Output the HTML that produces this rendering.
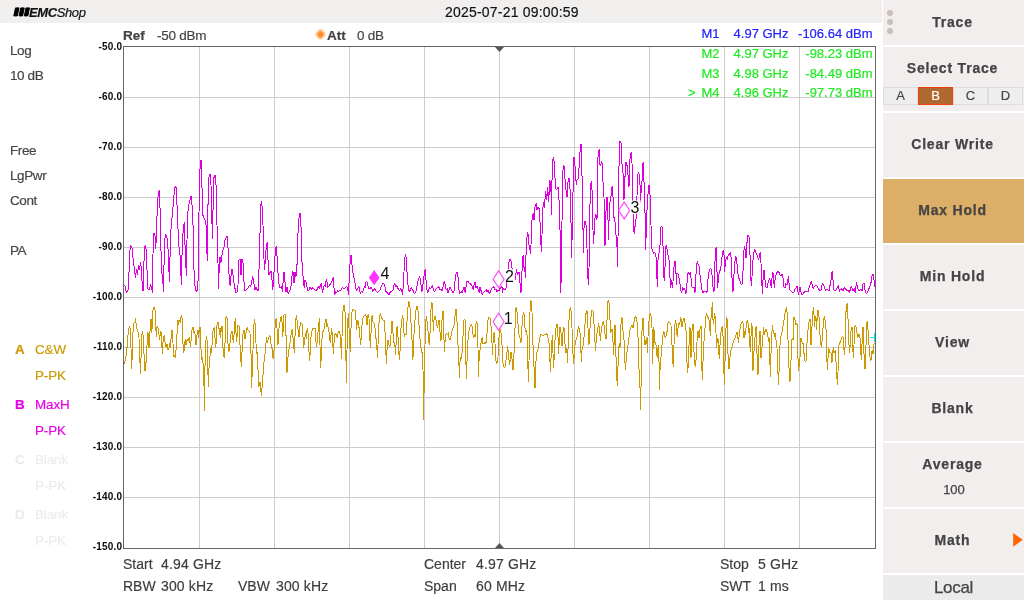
<!DOCTYPE html>
<html lang="en">
<head>
<meta charset="utf-8">
<title>Spectrum Analyzer - Trace</title>
<style>
*{box-sizing:border-box;margin:0;padding:0}
html,body{width:1024px;height:600px;overflow:hidden;background:#fff}
body{font-family:"Liberation Sans",Arial,sans-serif;color:#444;position:relative;-webkit-text-stroke:0.18px}
.abs{position:absolute;white-space:nowrap}
#hdr{left:0;top:0;width:882px;height:23px;background:#f1eeee}
#logo{left:29px;top:5px;font-size:13px;line-height:16px;color:#111;font-style:italic;letter-spacing:-0.4px}
#logo b{font-weight:bold}
#time{left:445px;top:3.5px;font-size:14px;line-height:16px;color:#111;letter-spacing:0.2px}
.lt{left:10px;font-size:13.5px;line-height:16px;color:#444;letter-spacing:-0.4px;margin-top:0.7px}
.lg{font-size:13.4px;line-height:16px;letter-spacing:-0.1px;margin-top:0.3px}
.lg b{position:absolute;left:-20px}
.ax{font-size:10px;font-weight:bold;color:#111;line-height:12px;width:40px;text-align:right;left:82px}
.ft{font-size:14px;line-height:16px;color:#3e3e3e}
.fv{letter-spacing:0.15px}
.mk{font-size:13px;line-height:16px;text-align:right}
#side{left:883px;top:0;width:141px;height:600px;background:#fff}
.btn{position:absolute;left:0;width:141px;height:64px;background:#f2eeed;text-align:center;font-weight:bold;font-size:14px;color:#444;line-height:16px;letter-spacing:0.8px;-webkit-text-stroke:0.25px}
.btn span{position:absolute;left:0;width:139px;text-align:center}
.tab{position:absolute;top:87px;height:18px;width:35px;background:#eee;border:1px solid #ddd;font-size:13px;font-weight:normal;line-height:16px;text-align:center;color:#444}
</style>
</head>
<body>
<div id="hdr" class="abs"></div>
<div id="logo" class="abs"><b>EMC</b>Shop</div>
<div id="time" class="abs">2025-07-21 09:00:59</div>

<div class="abs lt" style="top:42px">Log</div>
<div class="abs lt" style="top:67px">10 dB</div>
<div class="abs lt" style="top:142px">Free</div>
<div class="abs lt" style="top:167px">LgPwr</div>
<div class="abs lt" style="top:192px">Cont</div>
<div class="abs lt" style="top:242px">PA</div>

<div class="abs lg" style="left:35px;top:342px;color:#cc9900"><b>A</b>C&amp;W</div>
<div class="abs lg" style="left:35px;top:368px;color:#cc9900">P-PK</div>
<div class="abs lg" style="left:35px;top:397px;color:#e600e6"><b>B</b>MaxH</div>
<div class="abs lg" style="left:35px;top:423px;color:#e600e6">P-PK</div>
<div class="abs lg" style="left:35px;top:452px;color:#ebebee"><b>C</b>Blank</div>
<div class="abs lg" style="left:35px;top:478px;color:#ebebee">P-PK</div>
<div class="abs lg" style="left:35px;top:507px;color:#ebebee"><b>D</b>Blank</div>
<div class="abs lg" style="left:35px;top:533px;color:#ebebee">P-PK</div>

<svg class="abs" style="left:0;top:0" width="883" height="600" viewBox="0 0 883 600" font-family="Liberation Sans, Arial, sans-serif">
<path d="M199.5 46.5V548.5M274.5 46.5V548.5M349.5 46.5V548.5M424.5 46.5V548.5M499.5 46.5V548.5M574.5 46.5V548.5M649.5 46.5V548.5M724.5 46.5V548.5M799.5 46.5V548.5M123.5 97.5H875.5M123.5 147.5H875.5M123.5 197.5H875.5M123.5 247.5H875.5M123.5 297.5H875.5M123.5 347.5H875.5M123.5 397.5H875.5M123.5 447.5H875.5M123.5 497.5H875.5" stroke="#cccccc" stroke-width="1" fill="none" shape-rendering="crispEdges"/>
<path d="M123.7 365.0 L124.7 361.7 L125.7 358.3 L126.7 351.7 L127.7 338.3 L128.7 328.3 L129.7 326.7 L130.3 330.0 L131.0 348.3 L131.7 369.2 L132.3 351.7 L133.0 331.7 L134.0 323.3 L135.0 321.7 L135.7 318.3 L136.3 326.7 L137.3 330.0 L138.3 332.5 L139.0 338.3 L139.7 351.7 L140.3 374.2 L141.0 358.3 L141.7 338.3 L142.3 330.8 L143.0 335.0 L143.7 346.7 L144.3 361.7 L145.0 370.8 L145.7 363.3 L146.3 361.7 L147.0 345.0 L147.7 332.5 L148.3 333.3 L149.0 348.3 L149.7 336.7 L150.3 325.0 L151.0 319.2 L151.7 333.3 L152.3 325.0 L153.0 310.0 L154.0 307.5 L155.0 310.0 L155.7 325.0 L156.3 336.7 L157.0 326.7 L158.0 327.5 L158.7 333.3 L159.7 340.0 L160.3 332.5 L161.0 331.7 L161.7 341.7 L162.3 354.2 L163.0 341.7 L163.7 336.7 L164.3 335.0 L165.0 341.7 L166.0 346.7 L167.0 344.2 L168.0 350.0 L169.0 348.3 L170.0 343.3 L170.7 348.3 L171.3 330.8 L172.3 330.3 L173.0 343.3 L173.7 356.7 L174.7 355.8 L175.3 358.3 L176.0 350.0 L176.7 340.0 L177.3 328.3 L178.0 320.0 L178.7 325.0 L179.3 320.0 L180.3 322.5 L181.0 316.7 L181.7 315.0 L182.3 320.0 L182.7 335.0 L183.3 352.5 L184.0 350.8 L184.7 343.3 L185.3 339.2 L186.0 345.0 L186.7 341.7 L187.3 339.2 L188.0 340.8 L188.7 338.3 L189.3 337.5 L190.0 343.3 L190.7 346.7 L191.3 336.7 L192.0 330.0 L192.7 326.7 L193.3 327.5 L194.0 333.3 L194.7 330.8 L195.3 336.7 L196.0 345.0 L196.7 339.2 L197.3 330.8 L198.0 330.0 L198.7 338.3 L199.3 328.3 L200.0 326.7 L200.7 341.7 L201.3 355.0 L202.0 360.0 L202.7 357.5 L203.3 368.3 L204.0 385.8 L204.3 410.5 L205.0 366.7 L205.7 345.0 L206.3 335.8 L207.0 340.0 L207.7 361.7 L208.3 386.7 L209.0 368.3 L209.7 361.7 L210.3 351.7 L211.0 348.3 L211.7 353.3 L212.3 336.7 L213.0 330.8 L213.7 328.3 L214.3 327.5 L215.0 338.3 L215.7 348.3 L216.3 340.0 L217.0 325.0 L218.0 321.7 L218.7 322.5 L219.3 335.0 L220.0 328.3 L220.7 338.3 L221.3 326.7 L222.0 325.8 L222.7 341.7 L223.3 354.2 L224.3 358.3 L225.0 343.3 L225.7 330.0 L226.0 316.7 L227.0 317.5 L227.7 336.7 L228.3 351.7 L229.3 350.8 L230.0 343.3 L230.7 336.7 L231.3 331.7 L232.0 330.8 L232.7 336.7 L233.3 343.3 L234.0 335.0 L234.7 324.2 L235.3 318.3 L236.0 333.3 L236.7 341.7 L237.3 333.3 L238.0 325.0 L239.0 325.8 L239.7 338.3 L240.3 350.0 L241.0 361.7 L241.3 366.7 L242.0 352.5 L242.7 338.3 L243.3 330.8 L244.3 330.0 L245.0 339.2 L245.7 335.0 L246.3 330.8 L247.3 326.7 L248.0 330.0 L249.0 330.8 L250.0 333.3 L250.7 346.7 L251.3 361.7 L251.7 387.5 L252.3 368.3 L253.0 350.0 L253.7 325.8 L254.7 319.2 L255.3 326.7 L256.0 343.3 L256.7 354.2 L257.3 351.7 L258.0 370.0 L258.7 386.7 L259.3 385.8 L260.0 381.7 L260.7 388.3 L261.3 395.7 L262.0 388.3 L262.7 381.7 L263.3 368.3 L264.0 361.7 L264.7 358.3 L265.3 350.0 L266.0 343.3 L266.7 336.7 L267.3 343.3 L268.0 340.0 L268.7 338.3 L269.3 335.0 L270.0 335.8 L270.7 339.2 L271.3 348.3 L272.0 347.5 L272.7 356.7 L273.3 359.2 L274.0 350.0 L274.7 335.0 L275.3 321.7 L276.3 318.3 L277.0 328.3 L277.7 345.0 L278.3 343.3 L279.0 328.3 L279.7 325.0 L280.3 320.0 L281.3 315.8 L282.0 321.7 L282.7 336.7 L283.3 328.3 L284.0 315.0 L285.3 314.7 L285.7 325.0 L286.3 345.0 L287.0 372.5 L287.7 361.7 L288.3 353.3 L289.3 346.7 L290.3 341.7 L291.3 331.7 L292.3 329.2 L293.0 338.3 L293.7 345.0 L294.3 353.3 L295.0 336.7 L295.7 321.7 L296.3 315.0 L297.0 320.0 L297.7 323.3 L298.3 333.3 L299.0 336.7 L299.7 328.3 L300.7 322.5 L301.7 323.3 L302.3 325.0 L303.0 336.7 L303.7 348.3 L304.3 341.7 L305.0 336.7 L305.7 333.3 L306.3 339.2 L307.0 330.0 L307.7 328.3 L308.3 336.7 L309.0 351.7 L309.7 360.8 L310.3 350.0 L311.0 336.7 L312.0 330.8 L313.0 328.3 L314.0 329.2 L315.0 328.3 L315.7 336.7 L316.3 346.7 L317.0 343.3 L317.7 336.7 L318.3 328.3 L319.0 321.7 L319.5 318.3 L320.0 345.0 L320.3 368.3 L321.0 361.7 L321.7 345.0 L322.3 333.3 L323.3 330.8 L324.3 328.3 L325.0 323.3 L325.7 319.2 L326.3 320.0 L327.0 326.7 L327.7 323.3 L328.3 330.8 L329.0 331.7 L329.7 338.3 L330.3 343.3 L331.0 335.0 L331.7 328.3 L332.3 335.0 L333.0 346.7 L333.3 354.2 L334.0 343.3 L334.7 335.0 L335.3 333.3 L336.3 335.0 L337.3 337.5 L338.0 333.3 L338.7 330.8 L339.7 332.5 L340.3 335.0 L341.0 348.3 L341.3 359.2 L342.0 336.7 L342.7 316.7 L343.3 306.7 L344.3 305.0 L345.0 311.7 L345.7 336.7 L346.3 382.5 L347.0 350.0 L347.7 323.3 L348.3 313.3 L349.0 328.3 L349.7 343.3 L350.3 351.7 L351.0 328.3 L351.7 315.0 L352.3 310.0 L353.3 309.2 L354.3 310.0 L355.3 310.8 L356.0 320.0 L356.7 330.0 L357.3 320.0 L358.0 320.8 L358.7 326.7 L359.3 328.3 L360.0 338.3 L360.7 345.0 L361.3 335.0 L362.0 325.0 L362.7 318.3 L363.7 316.7 L364.7 315.0 L365.7 314.2 L366.3 318.3 L367.0 325.0 L367.7 316.7 L368.3 314.2 L369.0 318.3 L369.7 331.7 L370.3 348.3 L371.0 333.3 L371.7 316.7 L372.3 315.0 L373.0 321.7 L374.0 323.3 L375.0 328.3 L375.7 335.0 L376.3 341.7 L377.0 350.0 L377.3 357.5 L378.0 345.0 L378.7 328.3 L379.3 318.3 L380.3 313.3 L381.3 316.7 L382.3 319.2 L383.3 320.0 L384.3 320.8 L385.0 331.7 L385.7 345.0 L386.3 364.2 L387.0 350.0 L387.7 340.0 L388.3 340.8 L389.0 345.0 L389.7 346.7 L390.3 345.8 L391.0 335.0 L391.7 320.8 L392.7 321.7 L393.0 333.3 L393.7 341.7 L394.3 343.3 L395.0 346.7 L395.7 355.0 L396.3 336.7 L397.0 326.7 L397.7 325.8 L398.0 336.7 L398.7 350.0 L399.3 360.0 L400.0 351.7 L400.7 336.7 L401.3 320.0 L402.3 318.3 L402.7 315.0 L403.3 320.0 L404.0 333.3 L404.7 336.7 L405.3 334.2 L406.3 335.0 L406.7 328.3 L407.3 315.0 L408.0 306.7 L408.7 300.8 L409.3 303.3 L410.0 308.3 L410.7 316.7 L411.3 328.3 L412.0 340.0 L412.7 360.0 L413.3 353.3 L413.7 340.0 L414.3 328.3 L415.0 320.0 L416.0 310.0 L417.0 305.8 L417.7 307.5 L418.3 315.0 L419.0 325.0 L419.7 335.0 L420.3 343.3 L421.0 348.3 L421.7 351.7 L422.3 353.3 L423.0 370.0 L423.3 387.5 L423.5 419.8 L424.3 378.3 L425.0 345.0 L425.7 320.8 L426.7 315.8 L427.3 325.0 L428.0 330.8 L428.7 340.0 L429.3 345.0 L430.0 333.3 L430.7 315.0 L431.3 303.3 L432.0 302.5 L432.7 311.7 L433.3 330.8 L434.0 320.0 L434.7 315.8 L435.7 317.5 L436.3 321.7 L437.0 325.8 L437.7 328.3 L438.3 322.5 L439.0 320.0 L439.7 326.7 L440.3 337.5 L441.0 340.8 L441.7 328.3 L442.3 311.7 L443.0 310.8 L443.7 326.7 L444.3 351.7 L445.0 341.7 L445.7 334.2 L446.7 333.3 L447.7 335.0 L448.3 332.5 L449.0 338.3 L450.0 340.0 L451.0 335.8 L452.0 330.8 L453.0 328.3 L454.0 325.0 L454.7 320.0 L455.3 311.7 L456.0 309.2 L456.7 318.3 L457.3 325.0 L458.0 345.0 L458.7 353.3 L459.3 378.3 L460.0 361.7 L460.7 356.7 L461.3 359.2 L462.0 353.3 L462.7 345.0 L463.3 328.3 L464.0 320.0 L465.0 319.2 L465.3 328.3 L465.7 350.0 L466.3 379.2 L467.0 361.7 L467.7 345.0 L468.3 335.0 L469.3 330.0 L470.3 325.8 L471.3 324.2 L472.3 326.7 L473.0 335.0 L473.7 338.3 L474.3 334.2 L475.0 336.7 L475.7 328.3 L476.3 320.8 L477.3 323.3 L477.7 335.0 L478.0 348.3 L478.3 376.7 L479.0 361.7 L479.7 351.7 L480.7 345.0 L481.7 339.2 L482.3 336.7 L483.0 344.2 L484.0 343.3 L485.0 342.5 L486.0 343.3 L486.7 338.3 L487.3 328.3 L488.0 320.0 L489.0 316.7 L490.0 318.3 L490.7 323.3 L491.3 328.3 L492.0 343.3 L492.7 355.0 L493.0 343.3 L493.7 333.3 L494.3 332.5 L495.0 343.3 L495.7 358.3 L496.3 364.2 L497.3 361.7 L498.0 356.7 L498.7 343.3 L499.3 330.8 L500.0 330.0 L500.7 329.2 L501.3 336.7 L502.0 345.0 L502.7 361.7 L503.7 365.0 L504.3 368.3 L505.0 366.7 L505.7 361.7 L506.3 358.3 L507.0 351.7 L507.7 345.8 L508.3 353.3 L509.0 360.0 L509.7 365.0 L510.3 358.3 L511.0 351.7 L511.7 356.7 L512.3 361.7 L513.0 370.0 L513.7 361.7 L514.3 345.0 L515.0 328.3 L515.7 310.0 L516.3 306.7 L517.0 311.7 L517.7 320.0 L518.3 328.3 L519.0 335.0 L520.0 338.3 L521.0 342.5 L521.7 333.3 L522.3 320.0 L523.3 312.5 L524.3 315.0 L525.0 328.3 L525.7 331.7 L526.7 330.0 L527.3 340.0 L527.7 355.8 L528.3 381.7 L529.0 361.7 L529.7 328.3 L530.0 311.7 L530.7 300.0 L531.3 301.7 L532.0 311.7 L532.3 328.3 L533.0 345.0 L533.7 361.7 L534.3 371.7 L535.0 388.3 L535.7 370.0 L536.3 353.3 L537.3 351.7 L538.3 348.3 L539.0 343.3 L539.7 338.3 L540.7 334.2 L541.7 335.0 L542.7 335.8 L543.7 335.0 L544.7 334.2 L545.7 335.0 L546.7 333.3 L547.7 335.0 L548.3 340.0 L549.0 343.3 L549.7 351.7 L550.3 371.7 L551.0 358.3 L551.7 345.0 L552.3 335.0 L553.0 353.3 L553.7 368.3 L554.3 353.3 L555.0 340.0 L555.7 330.8 L556.3 325.0 L557.0 324.2 L557.7 328.3 L558.3 345.0 L558.7 354.2 L559.3 336.7 L560.0 327.5 L560.7 328.3 L561.3 336.7 L562.0 345.8 L562.7 336.7 L563.3 327.5 L564.0 328.3 L564.7 338.3 L565.3 348.3 L566.0 353.3 L566.7 348.3 L567.0 353.3 L567.7 362.5 L568.3 336.7 L569.0 320.0 L569.7 309.2 L570.7 307.5 L571.3 315.0 L572.0 328.3 L572.7 345.0 L573.3 361.7 L573.7 364.2 L574.3 353.3 L575.0 345.0 L576.0 340.0 L577.0 337.5 L577.7 331.7 L578.3 326.7 L579.3 328.3 L580.0 333.3 L580.7 343.3 L581.3 361.7 L582.0 350.0 L582.7 348.3 L583.3 343.3 L584.0 336.7 L584.7 328.3 L585.3 320.0 L586.3 310.8 L587.3 311.7 L588.0 328.3 L588.7 345.0 L589.3 343.3 L590.0 328.3 L590.7 320.0 L591.3 315.0 L592.0 310.0 L593.0 310.8 L593.7 320.0 L594.3 328.3 L595.0 341.7 L595.3 350.8 L596.0 343.3 L596.7 335.0 L597.3 330.8 L598.0 326.7 L598.7 323.3 L599.3 328.3 L600.0 335.8 L600.3 340.8 L601.0 333.3 L601.7 328.3 L602.3 324.2 L603.3 320.8 L604.0 325.0 L604.7 331.7 L605.3 336.7 L606.0 339.2 L606.7 328.3 L607.3 311.7 L608.0 300.8 L608.7 300.0 L609.3 305.0 L610.0 320.0 L610.7 333.3 L611.3 330.8 L612.0 329.2 L612.7 338.3 L613.3 345.0 L613.7 355.0 L614.3 336.7 L614.7 325.8 L615.3 325.8 L615.7 345.0 L616.3 368.3 L616.7 376.7 L617.3 385.8 L618.0 366.7 L618.7 350.0 L619.3 343.3 L620.0 348.3 L620.3 336.7 L621.0 324.2 L621.3 316.7 L622.0 318.3 L622.7 326.7 L623.3 335.0 L624.0 340.0 L624.7 355.0 L625.3 370.0 L626.0 361.7 L626.7 353.3 L627.3 350.0 L628.0 345.0 L628.7 338.3 L629.3 335.0 L630.0 330.0 L630.7 327.5 L631.3 325.8 L632.0 325.0 L632.7 328.3 L633.3 326.7 L634.0 321.7 L634.7 318.3 L635.3 316.7 L636.3 317.5 L637.0 321.7 L637.7 333.3 L638.3 340.0 L638.7 360.0 L639.3 378.3 L640.0 388.3 L640.3 409.8 L641.3 378.3 L641.7 345.0 L642.3 319.2 L643.3 318.3 L643.7 333.3 L644.3 338.3 L645.0 345.0 L645.7 341.7 L646.3 338.3 L647.0 344.2 L647.3 352.5 L648.0 336.7 L648.7 326.7 L649.3 316.7 L650.0 314.2 L650.7 313.3 L651.3 318.3 L652.0 328.3 L652.3 345.0 L652.7 364.2 L653.3 336.7 L653.7 327.5 L654.3 333.3 L654.7 343.3 L655.3 341.7 L656.0 345.0 L656.7 352.5 L657.3 358.3 L658.0 348.3 L658.7 345.0 L659.0 361.7 L659.3 390.0 L660.0 370.0 L660.7 361.7 L661.3 353.3 L662.0 345.0 L662.7 338.3 L663.3 332.5 L664.0 331.7 L664.7 335.0 L665.3 338.3 L666.0 335.8 L666.7 335.0 L667.3 328.3 L668.0 323.3 L668.7 321.7 L669.7 322.5 L670.3 324.2 L671.0 325.0 L671.3 336.7 L672.0 345.0 L672.7 361.7 L673.3 366.7 L674.0 345.0 L674.7 328.3 L675.3 320.0 L676.0 323.3 L676.7 333.3 L677.3 336.7 L678.0 328.3 L678.7 323.3 L679.3 325.0 L680.0 322.5 L680.7 317.5 L681.3 320.0 L682.0 326.7 L682.7 322.5 L683.3 319.2 L684.3 318.3 L685.0 323.3 L685.7 328.3 L686.3 333.3 L686.7 353.3 L687.3 372.5 L688.0 368.3 L688.7 353.3 L689.3 336.7 L689.7 327.5 L690.3 328.3 L690.7 345.0 L691.0 357.5 L691.7 336.7 L692.3 325.0 L693.3 324.2 L693.7 341.7 L694.3 361.7 L695.0 365.0 L695.7 366.7 L696.3 353.3 L697.0 341.7 L697.7 330.8 L698.3 331.7 L699.0 338.3 L699.7 332.5 L700.3 326.7 L701.0 325.8 L701.3 338.3 L701.7 361.7 L702.3 380.0 L703.0 361.7 L703.7 345.0 L704.3 336.7 L705.0 328.3 L705.7 318.3 L706.3 313.3 L707.0 315.0 L707.7 316.7 L708.3 318.3 L709.0 320.0 L709.7 326.7 L710.3 335.8 L710.7 325.0 L711.3 311.7 L712.0 306.7 L712.7 302.5 L713.0 320.0 L713.7 324.2 L714.3 313.3 L715.0 315.0 L715.3 326.7 L716.0 333.3 L716.7 348.3 L717.3 338.3 L718.0 339.2 L718.7 350.0 L719.3 359.2 L720.0 345.0 L720.7 336.7 L721.3 328.3 L722.0 326.7 L722.7 325.8 L723.3 345.0 L723.7 361.7 L724.3 385.0 L725.0 361.7 L725.3 345.0 L726.0 328.3 L726.7 317.5 L727.3 320.0 L727.7 345.0 L728.3 361.7 L729.0 369.2 L729.7 361.7 L730.3 353.3 L731.0 350.0 L731.7 348.3 L732.3 345.0 L733.0 343.3 L733.7 340.8 L734.3 339.2 L735.0 338.3 L735.7 336.7 L736.3 334.2 L737.0 331.7 L737.7 335.0 L738.3 343.3 L739.0 336.7 L739.7 330.8 L740.3 326.7 L741.0 324.2 L741.7 322.5 L742.7 321.7 L743.3 325.0 L744.0 338.3 L744.7 330.8 L745.3 335.0 L746.0 328.3 L746.7 321.7 L747.3 320.0 L748.0 322.5 L748.7 333.3 L749.3 328.3 L749.7 341.7 L750.3 351.7 L751.0 336.7 L751.3 323.3 L752.0 324.2 L752.3 345.0 L753.0 370.8 L753.7 358.3 L754.3 345.0 L755.0 336.7 L755.7 328.3 L756.3 325.8 L756.7 345.0 L757.3 361.7 L758.0 375.0 L758.7 353.3 L759.3 336.7 L760.0 330.8 L760.3 345.0 L761.0 358.3 L761.7 350.0 L762.3 345.0 L763.0 335.0 L763.7 327.5 L764.3 335.0 L765.0 331.7 L765.7 329.2 L766.7 330.0 L767.3 333.3 L768.0 336.7 L768.7 341.7 L769.3 338.3 L769.7 353.3 L770.3 376.7 L771.0 353.3 L771.7 336.7 L772.3 325.0 L773.0 330.0 L773.7 330.8 L774.3 336.7 L775.0 333.3 L775.7 336.7 L776.3 343.3 L777.0 348.3 L777.7 361.7 L778.3 385.0 L779.0 371.7 L779.7 366.7 L780.0 345.0 L780.7 336.7 L781.3 335.0 L782.0 331.7 L782.7 328.3 L783.3 323.3 L784.0 320.0 L784.7 315.0 L785.3 311.7 L786.3 307.5 L787.0 311.7 L787.7 328.3 L788.0 340.0 L788.7 361.7 L789.3 373.3 L790.0 381.7 L790.7 366.7 L791.3 353.3 L791.7 340.0 L792.3 338.3 L793.0 340.0 L793.7 328.3 L794.0 316.7 L794.7 318.3 L795.3 322.5 L796.0 325.0 L796.7 323.3 L797.3 324.2 L797.7 345.0 L798.3 370.8 L799.0 366.7 L799.7 365.0 L800.3 350.0 L801.0 338.3 L801.7 340.0 L802.3 343.3 L803.0 342.5 L803.7 350.0 L804.3 356.7 L805.0 360.8 L805.7 361.7 L806.3 360.8 L806.7 350.0 L807.3 336.7 L808.0 330.0 L808.7 325.0 L809.3 320.0 L810.0 319.2 L810.7 328.3 L811.0 345.0 L811.7 333.3 L812.3 320.0 L813.0 311.7 L813.3 306.7 L814.0 315.0 L814.7 326.7 L815.3 316.7 L816.0 317.5 L816.3 330.0 L817.0 321.7 L817.7 310.8 L818.3 310.0 L819.0 316.7 L819.7 331.7 L820.3 338.3 L821.0 345.0 L821.7 346.7 L822.3 336.7 L823.0 328.3 L823.7 320.0 L824.3 315.8 L825.0 320.0 L825.7 328.3 L826.3 330.0 L826.7 353.3 L827.3 370.0 L828.0 358.3 L828.7 348.3 L829.3 350.0 L830.0 353.3 L830.7 351.7 L831.3 355.0 L832.0 362.5 L832.7 353.3 L833.3 346.7 L834.0 353.3 L834.7 351.7 L835.3 350.0 L836.0 361.7 L836.7 372.5 L837.3 385.0 L838.0 371.7 L838.7 361.7 L839.0 345.0 L839.7 343.3 L840.3 341.7 L841.0 340.0 L841.7 338.3 L842.3 335.8 L843.0 336.7 L843.7 345.0 L844.3 355.0 L845.0 348.3 L845.3 328.3 L846.0 311.7 L846.7 304.2 L847.7 303.3 L848.0 319.2 L848.7 320.0 L849.0 345.0 L849.7 353.3 L850.3 341.7 L851.0 330.8 L851.7 327.5 L852.3 326.7 L852.7 345.0 L853.3 358.3 L854.0 345.0 L854.3 330.8 L855.0 325.8 L855.7 325.0 L856.3 328.3 L857.0 333.3 L857.7 338.3 L858.3 335.0 L859.0 334.2 L859.7 336.7 L860.3 340.0 L860.7 350.0 L861.3 360.0 L862.0 345.0 L862.3 328.3 L863.3 327.5 L863.7 345.0 L864.3 361.7 L865.0 369.2 L865.7 353.3 L866.3 336.7 L866.7 322.5 L867.7 321.7 L868.0 330.0 L868.7 330.8 L869.0 345.0 L869.7 353.3 L870.3 360.8 L871.0 360.0 L871.7 352.5 L872.3 350.0 L873.0 354.2 L873.7 346.7 L874.3 342.5" stroke="#cc9900" stroke-width="1" fill="none" stroke-linejoin="bevel" shape-rendering="crispEdges"/>
<path d="M123.5 284.2 L125.0 286.2 L126.5 293.0 L128.0 290.0 L129.0 272.5 L130.0 250.0 L130.8 245.5 L132.0 248.0 L133.0 257.5 L134.2 267.5 L135.5 278.0 L136.5 268.8 L137.5 275.0 L138.5 265.5 L139.5 270.0 L140.5 261.8 L141.5 270.0 L142.5 291.2 L143.5 290.0 L144.2 250.0 L145.2 245.5 L146.2 250.0 L147.0 270.0 L148.0 288.8 L149.5 290.0 L150.5 283.8 L151.5 287.5 L152.5 292.5 L152.8 262.5 L153.5 233.8 L154.8 233.2 L155.8 248.8 L156.5 230.5 L157.5 202.5 L158.5 192.0 L159.5 190.5 L160.0 207.5 L160.8 245.0 L161.8 272.5 L162.8 280.0 L163.5 292.0 L164.2 255.0 L165.2 234.5 L166.8 236.2 L167.8 243.8 L168.8 267.5 L169.5 282.0 L170.2 247.5 L171.2 225.0 L172.5 213.8 L173.8 197.5 L174.8 187.5 L176.0 186.8 L176.8 200.0 L177.8 225.0 L178.8 245.0 L180.0 255.0 L181.0 276.2 L181.5 285.0 L182.2 245.0 L183.2 230.0 L184.2 222.5 L185.0 245.0 L185.8 258.8 L186.2 276.2 L186.8 250.0 L187.5 215.0 L188.8 205.0 L189.8 201.2 L190.8 196.2 L191.5 196.8 L192.5 212.5 L193.2 230.0 L194.0 270.0 L194.8 285.0 L195.8 290.0 L196.8 292.0 L197.8 287.5 L198.5 265.0 L199.0 212.5 L199.8 172.5 L200.5 160.5 L201.5 160.5 L202.0 187.5 L202.8 215.0 L204.0 218.0 L205.0 220.0 L206.0 225.0 L206.8 245.0 L207.2 261.2 L207.8 225.0 L208.2 187.5 L209.2 175.0 L210.2 174.2 L211.0 185.0 L211.8 217.5 L212.5 238.8 L213.2 200.0 L214.0 177.5 L215.2 175.0 L216.2 187.5 L217.0 225.0 L217.8 252.5 L218.5 288.8 L219.2 267.5 L220.0 257.5 L221.0 262.5 L222.0 255.0 L223.0 250.0 L224.2 246.2 L225.2 238.8 L226.5 237.0 L227.5 236.2 L228.0 247.5 L228.8 270.0 L229.5 282.5 L230.2 286.2 L231.5 270.0 L232.5 268.8 L233.5 280.0 L234.8 287.5 L236.0 293.0 L237.0 292.5 L238.0 285.0 L239.0 260.0 L240.0 259.2 L241.0 275.0 L242.0 259.2 L243.0 262.5 L243.8 277.5 L244.5 291.2 L245.8 290.0 L247.0 288.8 L248.2 287.5 L249.5 285.0 L250.8 286.2 L252.0 280.0 L252.8 276.2 L253.8 282.5 L255.0 290.0 L256.2 287.0 L257.2 290.0 L258.2 291.2 L259.0 270.0 L259.8 245.0 L260.5 207.5 L261.5 200.8 L262.2 207.5 L263.0 225.0 L263.8 255.0 L264.5 270.0 L265.5 257.5 L266.5 243.8 L267.5 242.5 L268.0 260.0 L269.0 275.0 L270.0 272.5 L271.0 271.2 L272.0 280.0 L272.8 289.5 L273.5 280.0 L274.5 265.0 L275.5 247.5 L276.5 246.2 L277.5 265.0 L278.5 280.0 L279.5 287.5 L280.0 287.5 L281.7 286.7 L282.3 291.7 L283.0 283.3 L283.7 272.5 L284.3 271.7 L285.0 281.7 L286.0 291.7 L287.0 286.7 L288.3 294.2 L289.3 290.8 L290.7 289.2 L291.7 280.0 L292.3 271.7 L293.3 272.5 L294.0 283.3 L295.0 271.7 L295.7 276.7 L296.7 275.0 L297.3 255.0 L298.3 225.0 L299.5 213.3 L300.5 213.3 L301.0 226.7 L301.7 251.7 L302.3 271.7 L303.3 278.3 L304.2 287.5 L305.0 280.0 L306.0 281.7 L307.0 286.7 L308.0 290.8 L309.2 290.0 L310.3 286.7 L311.3 290.0 L312.5 287.5 L313.7 288.3 L315.0 290.0 L316.2 290.8 L317.3 289.2 L318.3 286.7 L319.3 288.3 L320.3 285.8 L321.2 283.3 L321.8 287.5 L322.7 292.5 L323.5 286.7 L324.3 285.0 L325.3 286.7 L326.2 279.2 L326.8 280.0 L327.7 287.5 L328.7 286.7 L329.7 285.0 L330.7 283.3 L331.7 281.7 L332.7 278.3 L333.3 277.5 L334.0 288.3 L334.7 295.0 L335.7 291.7 L336.7 292.5 L337.7 290.8 L338.7 291.7 L339.7 290.0 L340.7 290.8 L341.7 288.3 L342.7 287.5 L343.7 289.2 L344.7 288.3 L345.7 287.5 L346.7 286.7 L347.7 287.5 L348.3 295.0 L349.0 283.3 L349.7 271.7 L350.3 256.7 L351.3 255.0 L352.0 265.0 L352.7 271.7 L353.7 276.7 L354.7 280.0 L355.7 288.3 L356.7 290.8 L357.7 288.3 L358.7 286.7 L359.3 287.5 L360.3 293.3 L361.3 291.7 L362.3 292.5 L363.3 290.0 L364.3 286.7 L365.3 287.5 L366.0 281.7 L366.7 280.8 L367.7 285.0 L368.7 288.3 L370.0 289.2 L371.0 287.5 L371.7 288.3 L372.7 291.7 L373.7 290.0 L374.7 288.3 L375.7 290.8 L376.7 291.7 L377.7 292.5 L378.7 291.7 L380.0 290.0 L381.0 286.7 L382.0 285.0 L383.0 283.3 L384.0 284.2 L385.0 286.7 L386.0 291.7 L387.0 292.5 L388.0 293.3 L389.0 295.0 L390.0 292.5 L391.0 291.7 L392.0 290.8 L393.0 290.0 L394.0 285.0 L394.7 283.3 L395.7 286.7 L396.7 285.8 L397.7 288.3 L398.7 289.2 L399.7 290.8 L400.7 288.3 L401.7 290.0 L402.7 295.0 L403.3 283.3 L404.0 271.7 L404.7 260.0 L405.3 254.2 L406.3 258.3 L407.0 271.7 L407.7 281.7 L408.3 288.3 L409.3 291.7 L410.3 290.0 L411.3 287.5 L412.3 290.0 L413.3 290.8 L414.3 294.2 L415.3 292.5 L416.3 290.0 L417.3 285.0 L418.3 280.0 L419.3 276.7 L420.3 278.3 L421.0 285.0 L421.7 291.7 L422.7 288.3 L423.3 280.0 L424.3 275.0 L425.0 270.0 L425.7 269.2 L426.0 280.0 L426.7 288.3 L427.7 292.5 L428.7 290.0 L429.7 287.5 L430.7 288.3 L431.7 286.7 L432.7 285.8 L433.3 290.0 L434.3 291.7 L435.0 290.8 L436.0 289.2 L437.0 288.3 L438.0 286.7 L439.0 287.5 L440.0 290.0 L441.0 289.2 L442.0 290.8 L443.0 286.7 L444.0 282.5 L444.7 281.7 L445.3 286.7 L446.3 290.0 L447.3 288.3 L448.0 292.5 L449.0 290.0 L450.0 287.5 L451.0 289.2 L452.0 290.8 L453.0 292.5 L454.0 291.7 L454.7 285.0 L455.3 276.7 L456.3 273.3 L457.3 271.7 L458.0 276.7 L458.7 285.0 L459.3 294.2 L460.3 292.5 L461.3 291.7 L462.3 293.3 L463.3 288.3 L464.0 286.7 L464.7 290.0 L465.3 293.3 L466.0 286.7 L466.7 281.7 L467.7 281.3 L468.7 282.5 L469.7 283.3 L470.7 284.2 L471.7 285.0 L472.7 287.5 L473.3 290.0 L474.0 285.0 L474.7 282.5 L475.3 281.7 L476.0 288.3 L476.7 285.8 L477.7 286.7 L478.3 290.8 L479.3 292.5 L480.0 287.5 L480.7 289.2 L481.3 291.7 L482.3 295.0 L483.3 292.5 L484.3 291.7 L485.3 290.8 L486.3 289.2 L487.0 291.7 L488.0 290.0 L489.0 293.3 L490.0 292.5 L491.0 290.0 L492.0 288.3 L493.0 286.7 L494.0 287.5 L495.0 290.0 L496.0 289.2 L497.0 291.7 L498.0 290.0 L499.0 290.8 L500.0 288.3 L501.0 287.5 L502.0 286.7 L502.7 292.5 L503.3 288.3 L504.3 289.2 L505.3 290.0 L506.3 286.7 L506.7 285.8 L507.7 275.0 L508.3 266.7 L509.3 259.7 L510.7 259.3 L511.7 265.8 L512.7 271.7 L513.7 278.3 L514.7 282.0 L515.3 278.3 L516.0 273.3 L516.7 269.2 L517.3 275.0 L518.3 273.3 L519.3 272.5 L520.0 283.3 L520.7 292.5 L521.0 292.5 L521.7 283.3 L522.3 260.0 L523.3 255.0 L524.0 268.3 L524.7 266.7 L525.3 277.5 L526.0 255.0 L526.7 243.3 L527.3 231.7 L528.0 233.3 L528.7 245.0 L529.7 245.8 L530.3 254.2 L531.0 245.0 L531.7 225.0 L532.3 215.0 L533.3 213.3 L534.0 220.0 L534.7 208.3 L535.7 204.2 L536.3 203.3 L537.0 210.0 L538.0 207.5 L539.0 208.3 L539.7 216.7 L540.3 226.7 L541.3 251.7 L542.0 235.0 L542.7 210.0 L543.7 201.7 L544.3 208.3 L545.7 190.8 L546.7 200.0 L547.7 187.5 L548.7 201.7 L549.7 180.0 L550.7 183.3 L551.3 200.0 L551.7 215.0 L552.0 180.0 L552.7 161.7 L553.3 157.5 L554.0 160.8 L554.7 173.3 L555.7 188.3 L556.7 190.0 L557.7 187.5 L558.3 186.7 L559.0 200.0 L559.7 203.3 L560.0 230.0 L560.3 293.3 L561.3 278.3 L562.0 221.7 L562.7 175.0 L563.3 165.0 L564.0 165.8 L564.7 175.0 L565.7 186.7 L566.7 196.7 L567.3 196.7 L568.0 181.7 L569.0 178.3 L569.7 183.3 L570.3 193.3 L571.0 223.3 L571.3 257.5 L572.0 240.0 L572.7 225.0 L573.0 193.3 L573.3 161.7 L574.0 157.5 L574.7 160.0 L575.3 171.7 L576.3 185.0 L577.0 180.0 L578.0 179.2 L579.0 168.3 L579.7 160.0 L580.3 145.0 L581.3 144.2 L581.7 175.0 L582.3 176.7 L582.7 196.7 L583.0 230.0 L583.3 252.5 L584.0 228.3 L585.0 220.8 L585.7 221.7 L586.3 228.3 L587.0 248.3 L587.7 271.7 L588.3 285.0 L589.0 268.3 L589.7 221.7 L590.3 188.3 L591.3 180.8 L592.0 190.0 L592.7 191.7 L593.0 230.0 L593.3 244.2 L594.0 235.0 L594.7 220.0 L595.7 214.2 L596.3 216.7 L597.0 220.0 L597.7 163.3 L598.3 151.7 L599.3 149.2 L600.0 165.0 L600.7 165.8 L601.3 161.7 L602.0 162.5 L602.7 180.0 L603.3 183.3 L604.0 196.7 L604.3 221.7 L605.0 245.8 L605.7 221.7 L606.3 200.0 L607.0 196.7 L607.7 198.3 L608.3 240.0 L609.0 221.7 L609.7 208.3 L610.3 196.7 L611.0 195.8 L611.7 188.3 L612.3 185.8 L613.0 196.7 L613.7 216.7 L614.3 218.3 L615.0 221.7 L616.0 235.0 L617.0 246.7 L617.3 266.7 L618.0 238.3 L618.7 178.3 L619.3 155.0 L620.0 140.8 L621.0 142.5 L621.7 163.3 L622.7 165.0 L623.3 180.0 L624.0 200.0 L624.7 180.0 L625.3 173.3 L626.0 161.7 L626.7 165.0 L627.3 165.8 L628.3 178.3 L629.0 186.7 L629.7 163.3 L630.3 155.0 L631.3 152.5 L632.0 163.3 L632.7 196.7 L633.0 213.3 L633.7 230.0 L634.3 234.2 L635.3 223.3 L636.3 217.5 L637.0 196.7 L637.3 178.3 L638.3 172.5 L639.3 175.0 L640.0 185.0 L640.7 203.3 L641.3 183.3 L642.0 181.7 L642.7 163.3 L643.3 162.5 L644.0 181.7 L644.7 183.3 L645.0 213.3 L645.3 250.0 L646.0 238.3 L646.7 226.7 L647.3 195.0 L648.0 194.2 L648.3 185.8 L649.3 185.0 L649.7 193.3 L650.3 195.8 L651.0 225.0 L651.7 248.3 L652.7 251.7 L653.7 253.3 L654.7 252.5 L655.7 255.0 L656.3 258.3 L656.7 271.7 L657.3 286.7 L658.0 260.0 L659.0 253.3 L659.7 251.7 L660.3 238.3 L661.0 226.7 L662.0 226.3 L662.7 238.3 L663.3 253.3 L664.0 278.3 L664.7 280.8 L665.3 255.0 L666.0 245.8 L666.7 245.0 L667.3 253.3 L668.0 255.0 L669.0 260.0 L669.7 268.3 L670.3 287.5 L671.0 280.0 L671.7 281.7 L672.3 287.5 L673.0 281.7 L673.7 271.7 L674.3 262.5 L675.0 261.7 L675.7 261.7 L676.3 285.0 L677.0 273.3 L678.0 274.2 L678.7 276.7 L679.7 281.7 L680.7 290.0 L681.7 293.3 L682.7 287.5 L683.7 290.0 L684.7 288.3 L685.7 294.2 L686.7 290.0 L687.3 276.7 L688.3 271.7 L689.3 275.0 L690.3 271.7 L691.0 278.3 L692.0 286.7 L693.0 288.3 L694.0 286.7 L695.0 292.5 L695.7 280.0 L696.3 268.3 L697.3 260.8 L698.3 265.0 L699.3 266.7 L700.0 275.0 L701.0 283.3 L702.0 290.0 L703.0 292.5 L704.0 290.8 L705.0 291.7 L706.0 290.8 L707.0 292.5 L707.7 283.3 L708.3 275.0 L709.3 270.8 L710.3 268.3 L711.3 269.2 L712.3 276.7 L713.3 291.7 L714.3 290.8 L714.7 271.7 L715.3 250.0 L716.3 247.5 L717.0 271.7 L717.7 288.3 L718.3 278.3 L719.3 271.7 L720.3 270.0 L721.3 265.0 L722.3 253.3 L723.3 250.0 L724.0 255.0 L724.7 271.7 L725.3 263.3 L726.3 256.7 L727.3 260.0 L728.3 255.0 L729.3 254.2 L730.3 252.5 L731.0 256.7 L731.7 271.7 L732.3 283.3 L733.0 291.7 L733.7 278.3 L734.7 263.3 L735.7 255.8 L736.7 260.0 L737.3 268.3 L738.3 276.7 L739.3 279.2 L740.3 281.7 L741.3 285.0 L742.3 283.3 L743.0 271.7 L743.7 255.0 L744.3 245.8 L745.3 250.0 L746.0 258.3 L746.7 248.3 L747.3 237.5 L748.3 234.7 L749.3 238.3 L750.0 255.0 L750.7 275.0 L751.3 285.8 L752.0 276.7 L752.7 263.3 L753.7 253.3 L754.7 249.2 L755.7 252.5 L756.7 254.2 L757.7 256.7 L758.7 260.0 L759.7 253.3 L760.3 252.5 L761.0 263.3 L761.7 276.7 L762.3 294.2 L763.0 280.0 L763.7 270.8 L764.3 270.0 L765.0 280.0 L766.0 286.7 L767.0 288.3 L768.0 283.3 L769.0 280.0 L769.7 278.3 L770.7 283.3 L771.3 288.3 L772.0 278.3 L773.0 272.5 L773.7 278.3 L774.3 288.3 L775.0 280.0 L776.0 275.0 L777.0 272.5 L778.0 271.7 L779.0 272.5 L780.0 275.0 L781.0 275.8 L782.0 274.2 L783.0 278.3 L784.0 286.7 L785.0 288.3 L785.7 283.3 L786.7 285.0 L787.7 283.3 L788.3 275.8 L789.0 283.3 L790.0 290.0 L791.0 290.8 L792.0 291.7 L793.0 293.3 L794.0 291.7 L795.0 289.2 L796.0 288.3 L797.0 285.8 L797.7 288.3 L798.3 295.0 L799.0 291.7 L800.0 287.5 L801.0 291.7 L802.0 295.0 L803.0 294.2 L804.0 292.5 L805.0 290.8 L806.0 291.7 L807.0 290.8 L808.0 291.7 L809.0 288.3 L810.0 285.0 L811.0 281.7 L811.7 280.8 L812.3 286.7 L813.3 288.3 L814.3 286.7 L815.3 285.8 L816.3 285.0 L817.3 286.7 L818.3 288.3 L819.3 290.0 L820.3 290.3 L821.3 290.0 L822.0 285.0 L822.7 283.3 L823.7 285.0 L824.7 287.5 L825.3 290.8 L826.3 290.0 L827.3 289.2 L828.3 290.0 L829.3 290.8 L829.8 288.3 L830.3 281.7 L831.0 280.0 L831.5 272.5 L832.5 271.2 L833.0 280.0 L833.5 280.8 L833.8 290.0 L834.7 290.8 L835.7 290.4 L836.7 288.3 L837.7 287.5 L838.3 285.4 L838.8 288.3 L839.5 291.7 L840.3 289.2 L841.3 288.8 L842.3 290.0 L843.3 291.2 L844.3 287.5 L845.2 288.3 L846.2 289.6 L847.2 290.8 L848.2 290.0 L849.2 292.5 L850.2 290.0 L851.2 286.7 L851.8 287.1 L852.5 290.0 L853.5 290.4 L854.5 288.3 L855.3 293.3 L855.8 288.3 L856.5 282.5 L857.2 286.7 L858.0 289.2 L859.0 290.4 L860.0 290.0 L861.0 289.2 L862.2 291.2 L863.0 283.8 L864.5 283.8 L865.0 290.0 L866.0 293.3 L866.7 293.8 L867.7 291.7 L868.7 289.2 L869.7 286.7 L870.7 284.2 L871.5 280.0 L872.2 274.6 L873.7 274.3 L874.0 280.0 L874.3 286.7 L875.0 281.7" stroke="#dd00dd" stroke-width="1" fill="none" stroke-linejoin="bevel" shape-rendering="crispEdges"/>
<rect x="123.5" y="46.5" width="752.0" height="502.0" fill="none" stroke="#666666" stroke-width="1"/>
<path d="M495 47H504L499.5 52Z M495 548H504L499.5 543Z" fill="#555"/>
<path d="M870 337.5H875M874.5 333V342" stroke="#00eaea" stroke-width="1" fill="none" shape-rendering="crispEdges"/>
<path d="M498.6 313.3L504.1 321.7L498.6 330.09999999999997L493.1 321.7Z" fill="#fff" stroke="#ff48ff" stroke-width="1.15"/><rect x="505.1" y="311.7" width="10" height="13" fill="#fff"/><text x="503.8" y="324.09999999999997" font-size="16" fill="#111">1</text>
<path d="M498.6 270.90000000000003L504.1 279.3L498.6 287.7L493.1 279.3Z" fill="#fff" stroke="#ff48ff" stroke-width="1.15"/><rect x="505.1" y="269.3" width="10" height="13" fill="#fff"/><text x="504.90000000000003" y="281.7" font-size="16" fill="#111">2</text>
<path d="M624.2 202.1L629.7 210.5L624.2 218.9L618.7 210.5Z" fill="#fff" stroke="#ff48ff" stroke-width="1.15"/><rect x="630.7" y="200.5" width="10" height="13" fill="#fff"/><text x="630.5" y="212.9" font-size="16" fill="#111">3</text>
<path d="M374.2 270.09999999999997L379.5 277.7L374.2 285.3L368.9 277.7Z" fill="#ff33ff"/><rect x="380.7" y="267.7" width="10" height="13" fill="#fff"/><text x="380.5" y="279.0" font-size="16" fill="#111">4</text>
<text x="122.3" y="49.9" font-size="10" font-weight="bold" fill="#0a0a0a" letter-spacing="0.2" text-anchor="end">-50.0</text>
<text x="122.3" y="99.9" font-size="10" font-weight="bold" fill="#0a0a0a" letter-spacing="0.2" text-anchor="end">-60.0</text>
<text x="122.3" y="149.9" font-size="10" font-weight="bold" fill="#0a0a0a" letter-spacing="0.2" text-anchor="end">-70.0</text>
<text x="122.3" y="199.9" font-size="10" font-weight="bold" fill="#0a0a0a" letter-spacing="0.2" text-anchor="end">-80.0</text>
<text x="122.3" y="249.9" font-size="10" font-weight="bold" fill="#0a0a0a" letter-spacing="0.2" text-anchor="end">-90.0</text>
<text x="122.3" y="299.9" font-size="10" font-weight="bold" fill="#0a0a0a" letter-spacing="0.2" text-anchor="end">-100.0</text>
<text x="122.3" y="349.9" font-size="10" font-weight="bold" fill="#0a0a0a" letter-spacing="0.2" text-anchor="end">-110.0</text>
<text x="122.3" y="399.9" font-size="10" font-weight="bold" fill="#0a0a0a" letter-spacing="0.2" text-anchor="end">-120.0</text>
<text x="122.3" y="449.9" font-size="10" font-weight="bold" fill="#0a0a0a" letter-spacing="0.2" text-anchor="end">-130.0</text>
<text x="122.3" y="499.9" font-size="10" font-weight="bold" fill="#0a0a0a" letter-spacing="0.2" text-anchor="end">-140.0</text>
<text x="122.3" y="549.9" font-size="10" font-weight="bold" fill="#0a0a0a" letter-spacing="0.2" text-anchor="end">-150.0</text>
<text y="38" font-size="13" fill="#2222fa" stroke="#2222fa" stroke-width="0.2" text-anchor="end"><tspan x="719.5">M1</tspan><tspan x="788.5">4.97 GHz</tspan><tspan x="872.5">-106.64 dBm</tspan></text>
<text y="57.5" font-size="13" fill="#22ea22" stroke="#22ea22" stroke-width="0.2" text-anchor="end"><tspan x="719.5">M2</tspan><tspan x="788.5">4.97 GHz</tspan><tspan x="872.5">-98.23 dBm</tspan></text>
<text y="77.5" font-size="13" fill="#22ea22" stroke="#22ea22" stroke-width="0.2" text-anchor="end"><tspan x="719.5">M3</tspan><tspan x="788.5">4.98 GHz</tspan><tspan x="872.5">-84.49 dBm</tspan></text>
<text y="97.3" font-size="13" fill="#22ea22" stroke="#22ea22" stroke-width="0.2" text-anchor="end"><tspan x="719.5">M4</tspan><tspan x="788.5">4.96 GHz</tspan><tspan x="872.5">-97.73 dBm</tspan></text>
<text x="688" y="97.3" font-size="13" fill="#22ea22" stroke="#22ea22" stroke-width="0.2">&gt;</text>
<defs><radialGradient id="ag"><stop offset="0" stop-color="#ff7a10"/><stop offset="0.55" stop-color="#ff9a48"/><stop offset="1" stop-color="#ffd0a8" stop-opacity="0.6"/></radialGradient></defs>
<filter id="bl" x="-50%" y="-50%" width="200%" height="200%"><feGaussianBlur stdDeviation="0.9"/></filter>
<path d="M320.5 29.2L325.3 34.3L320.5 39.4L315.7 34.3Z" fill="#ff8a24" filter="url(#bl)"/>
<path d="M15.5 7.9H19.0L17.3 15.9H13.8Z" fill="#000" stroke="#000" stroke-width="1" stroke-linejoin="round"/>
<path d="M20.75 7.9H24.25L22.549999999999997 15.9H19.049999999999997Z" fill="#000" stroke="#000" stroke-width="1" stroke-linejoin="round"/>
<path d="M26.0 7.9H29.5L27.799999999999997 15.9H24.299999999999997Z" fill="#000" stroke="#000" stroke-width="1" stroke-linejoin="round"/>
</svg>

<div class="abs" style="left:123px;top:27.5px;font-size:13.5px;line-height:16px;font-weight:bold;color:#444">Ref</div>
<div class="abs" style="left:157px;top:27.5px;font-size:13.5px;line-height:16px;color:#444;letter-spacing:-0.25px">-50 dBm</div>
<div class="abs" style="left:327px;top:27.5px;font-size:13.5px;line-height:16px;font-weight:bold;color:#444">Att</div>
<div class="abs" style="left:357px;top:27.5px;font-size:13.5px;line-height:16px;color:#444;letter-spacing:-0.25px">0 dB</div>

<div class="abs ft" style="left:123px;top:556px">Start</div>
<div class="abs ft fv" style="left:161px;top:556px">4.94 GHz</div>
<div class="abs ft" style="left:123px;top:578px">RBW</div>
<div class="abs ft fv" style="left:161px;top:578px">300 kHz</div>
<div class="abs ft" style="left:238px;top:578px">VBW</div>
<div class="abs ft fv" style="left:276px;top:578px">300 kHz</div>
<div class="abs ft" style="left:424px;top:556px">Center</div>
<div class="abs ft fv" style="left:476px;top:556px">4.97 GHz</div>
<div class="abs ft" style="left:424px;top:578px">Span</div>
<div class="abs ft fv" style="left:476px;top:578px">60 MHz</div>
<div class="abs ft" style="left:720px;top:556px">Stop</div>
<div class="abs ft fv" style="left:758px;top:556px">5 GHz</div>
<div class="abs ft" style="left:720px;top:578px">SWT</div>
<div class="abs ft fv" style="left:758px;top:578px">1 ms</div>

<div id="side" class="abs">
 <div class="btn" style="top:-19px"><span style="top:33px">Trace</span><svg style="position:absolute;left:3px;top:27px" width="8" height="28" viewBox="0 0 8 28"><circle cx="4" cy="5" r="3" fill="#cbbfb8"/><circle cx="4" cy="14" r="3" fill="#cbbfb8"/><circle cx="4" cy="23" r="3" fill="#cbbfb8"/></svg></div>
 <div class="btn" style="top:47px"><span style="top:13px">Select Trace</span>
 </div>
 <div class="tab" style="left:0;top:87px">A</div>
 <div class="tab" style="left:35px;top:87px;background:#b06a30;border-color:#f04010;color:#fff">B</div>
 <div class="tab" style="left:70px;top:87px">C</div>
 <div class="tab" style="left:105px;top:87px">D</div>
 <div class="btn" style="top:113px"><span style="top:23px">Clear Write</span></div>
 <div class="btn" style="top:179px;background:#dcae68"><span style="top:23px">Max Hold</span></div>
 <div class="btn" style="top:245px"><span style="top:23px">Min Hold</span></div>
 <div class="btn" style="top:311px"><span style="top:23px">View</span></div>
 <div class="btn" style="top:377px"><span style="top:23px">Blank</span></div>
 <div class="btn" style="top:443px"><span style="top:12.5px">Average</span><span style="top:39px;font-weight:normal;font-size:13px;letter-spacing:0;left:1.5px">100</span></div>
 <div class="btn" style="top:509px"><span style="top:23px">Math</span><svg style="position:absolute;left:128px;top:22px" width="13" height="18" viewBox="0 0 13 18"><path d="M2.2 2L11.8 8.8L2.2 15.7Z" fill="#ff6600"/></svg></div>
 <div class="btn" style="top:575px;height:25px;background:#ebebeb;font-weight:normal;font-size:17px;letter-spacing:-0.3px"><span style="top:4px;line-height:18px;left:1px">Local</span></div>
</div>
</body>
</html>
